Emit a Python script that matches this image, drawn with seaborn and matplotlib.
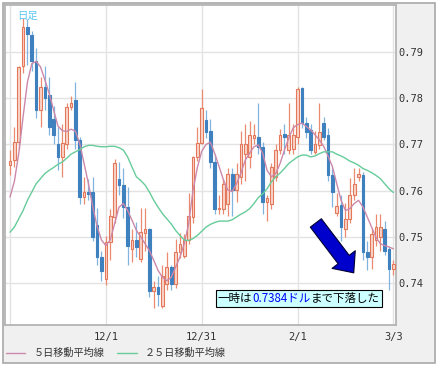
import numpy as np
import pandas as pd
import matplotlib
matplotlib.use("Agg")
import matplotlib.pyplot as plt
import seaborn as sns
from matplotlib.patches import Rectangle
from matplotlib.offsetbox import TextArea, HPacker, AnnotationBbox

# daily candles, index 0 = 11/1 ... 88 = 3/3
opens = [0.7655, 0.7666, 0.7706, 0.7869, 0.7954, 0.7938, 0.7880, 0.7775, 0.7825, 0.7807,
         0.7756, 0.7702, 0.7673, 0.7702, 0.7782, 0.7796, 0.7709, 0.7586, 0.7597, 0.7597,
         0.7525, 0.7456, 0.7409, 0.7488, 0.7543, 0.7626, 0.7612, 0.7565, 0.7474, 0.7492,
         0.7452, 0.7509, 0.7516, 0.7383, 0.7392, 0.7351, 0.7398, 0.7434, 0.7398, 0.7467,
         0.7459, 0.7492, 0.7543, 0.7673, 0.7704, 0.7753, 0.7730, 0.7662, 0.7560, 0.7561,
         0.7572, 0.7637, 0.7601, 0.7630, 0.7680, 0.7673, 0.7715, 0.7717, 0.7695, 0.7575,
         0.7572, 0.7630, 0.7688, 0.7722, 0.7688, 0.7691, 0.7717, 0.7822, 0.7746, 0.7731,
         0.7684, 0.7699, 0.7746, 0.7720, 0.7633, 0.7551, 0.7568, 0.7517, 0.7539, 0.7590,
         0.7630, 0.7633, 0.7467, 0.7456, 0.7492, 0.7499, 0.7517, 0.7474, 0.7430]
highs = [0.7688, 0.7738, 0.7870, 0.7974, 0.7972, 0.7945, 0.7909, 0.7846, 0.7870, 0.7846,
         0.7783, 0.7738, 0.7745, 0.7790, 0.7805, 0.7836, 0.7716, 0.7630, 0.7625, 0.7630,
         0.7562, 0.7470, 0.7502, 0.7560, 0.7668, 0.7662, 0.7648, 0.7608, 0.7516, 0.7532,
         0.7562, 0.7562, 0.7520, 0.7405, 0.7416, 0.7440, 0.7468, 0.7440, 0.7495, 0.7508,
         0.7505, 0.7595, 0.7675, 0.7738, 0.7820, 0.7775, 0.7755, 0.7680, 0.7590, 0.7625,
         0.7650, 0.7650, 0.7660, 0.7730, 0.7745, 0.7750, 0.7745, 0.7789, 0.7705, 0.7590,
         0.7660, 0.7700, 0.7733, 0.7745, 0.7789, 0.7745, 0.7825, 0.7825, 0.7760, 0.7745,
         0.7730, 0.7790, 0.7760, 0.7735, 0.7650, 0.7595, 0.7590, 0.7573, 0.7628, 0.7650,
         0.7650, 0.7640, 0.7490, 0.7520, 0.7550, 0.7550, 0.7535, 0.7477, 0.7450]
lows = [0.7633, 0.7651, 0.7690, 0.7854, 0.7872, 0.7860, 0.7757, 0.7738, 0.7775, 0.7720,
        0.7700, 0.7645, 0.7630, 0.7690, 0.7775, 0.7690, 0.7572, 0.7570, 0.7580, 0.7490,
        0.7440, 0.7405, 0.7395, 0.7450, 0.7530, 0.7590, 0.7540, 0.7440, 0.7445, 0.7456,
        0.7445, 0.7470, 0.7370, 0.7345, 0.7350, 0.7345, 0.7385, 0.7385, 0.7390, 0.7455,
        0.7455, 0.7485, 0.7530, 0.7665, 0.7700, 0.7715, 0.7650, 0.7550, 0.7550, 0.7550,
        0.7545, 0.7545, 0.7575, 0.7615, 0.7620, 0.7650, 0.7700, 0.7680, 0.7550, 0.7535,
        0.7560, 0.7620, 0.7680, 0.7680, 0.7680, 0.7680, 0.7700, 0.7735, 0.7715, 0.7680,
        0.7680, 0.7690, 0.7710, 0.7620, 0.7565, 0.7545, 0.7490, 0.7500, 0.7530, 0.7580,
        0.7620, 0.7450, 0.7428, 0.7430, 0.7480, 0.7470, 0.7460, 0.7384, 0.7418]
closes = [0.7664, 0.7706, 0.7867, 0.7954, 0.7940, 0.7880, 0.7775, 0.7825, 0.7800, 0.7738,
          0.7720, 0.7673, 0.7704, 0.7782, 0.7789, 0.7709, 0.7586, 0.7597, 0.7593, 0.7500,
          0.7456, 0.7427, 0.7488, 0.7546, 0.7659, 0.7612, 0.7565, 0.7481, 0.7492, 0.7478,
          0.7510, 0.7516, 0.7383, 0.7392, 0.7376, 0.7416, 0.7434, 0.7398, 0.7467, 0.7485,
          0.7492, 0.7546, 0.7673, 0.7704, 0.7778, 0.7728, 0.7662, 0.7561, 0.7562, 0.7614,
          0.7637, 0.7601, 0.7637, 0.7702, 0.7702, 0.7720, 0.7720, 0.7695, 0.7575, 0.7583,
          0.7651, 0.7688, 0.7720, 0.7717, 0.7720, 0.7720, 0.7820, 0.7746, 0.7728, 0.7688,
          0.7702, 0.7728, 0.7717, 0.7633, 0.7597, 0.7566, 0.7521, 0.7539, 0.7590, 0.7615,
          0.7636, 0.7467, 0.7456, 0.7507, 0.7521, 0.7521, 0.7470, 0.7430, 0.7441]

# moving averages as drawn on the chart
ma5 = [0.7586, 0.7620, 0.7680, 0.7760, 0.7835, 0.7875, 0.7880, 0.7868, 0.7840, 0.7810,
       0.7775, 0.7740, 0.7730, 0.7728, 0.7733, 0.7729, 0.7702, 0.7659, 0.7615, 0.7565,
       0.7522, 0.7493, 0.7481, 0.7493, 0.7528, 0.7564, 0.7572, 0.7557, 0.7536, 0.7514,
       0.7500, 0.7485, 0.7470, 0.7449, 0.7427, 0.7412, 0.7405, 0.7412, 0.7434, 0.7456,
       0.7485, 0.7528, 0.7600, 0.7650, 0.7685, 0.7700, 0.7705, 0.7680, 0.7652, 0.7623,
       0.7601, 0.7598, 0.7615, 0.7638, 0.7666, 0.7681, 0.7695, 0.7699, 0.7681, 0.7644,
       0.7630, 0.7637, 0.7659, 0.7688, 0.7714, 0.7736, 0.7743, 0.7746, 0.7739, 0.7732,
       0.7721, 0.7710, 0.7696, 0.7675, 0.7652, 0.7615, 0.7579, 0.7557, 0.7561, 0.7572,
       0.7579, 0.7565, 0.7543, 0.7521, 0.7499, 0.7485, 0.7481, 0.7478, 0.7474]
ma25 = [0.7510, 0.7521, 0.7539, 0.7557, 0.7579, 0.7597, 0.7615, 0.7626, 0.7637, 0.7644,
        0.7650, 0.7657, 0.7662, 0.7670, 0.7679, 0.7684, 0.7689, 0.7695, 0.7698, 0.7698,
        0.7696, 0.7695, 0.7695, 0.7696, 0.7696, 0.7693, 0.7688, 0.7673, 0.7651, 0.7630,
        0.7622, 0.7612, 0.7597, 0.7579, 0.7564, 0.7550, 0.7539, 0.7528, 0.7514, 0.7503,
        0.7493, 0.7492, 0.7496, 0.7503, 0.7512, 0.7521, 0.7527, 0.7531, 0.7534, 0.7534,
        0.7534, 0.7537, 0.7543, 0.7549, 0.7554, 0.7561, 0.7572, 0.7585, 0.7593, 0.7604,
        0.7619, 0.7630, 0.7638, 0.7648, 0.7659, 0.7666, 0.7673, 0.7677, 0.7677, 0.7673,
        0.7675, 0.7680, 0.7684, 0.7684, 0.7684, 0.7679, 0.7675, 0.7670, 0.7664, 0.7660,
        0.7655, 0.7648, 0.7644, 0.7639, 0.7633, 0.7626, 0.7615, 0.7604, 0.7596]

tick_pos = [0, 22, 44, 66, 88]
tick_labels = ['', '12/1', '12/31', '2/1', '3/3']
y_ticks = [0.74, 0.75, 0.76, 0.77, 0.78, 0.79]

sns.set_style('white')
plt.rcParams['font.family'] = ['Noto Sans CJK JP', 'DejaVu Sans']

df = pd.DataFrame({'open': opens, 'high': highs, 'low': lows, 'close': closes,
                   'ma5': ma5, 'ma25': ma25})
df['x'] = np.arange(len(df))
df['up'] = df['close'] >= df['open']

fig = plt.figure(figsize=(4.42, 3.70), dpi=100)
fig.patch.set_facecolor('white')
# grey panel behind everything
fig.add_artist(Rectangle((3 / 442, 7 / 370), 432 / 442, 360 / 370, transform=fig.transFigure,
                         fc='#f0f0f0', ec='#a8a8a8', lw=1.2, zorder=-1))

ax = fig.add_axes([5 / 442, 45 / 370, 391 / 442, 320 / 370])
ax.set_facecolor('white')

up = df[df['up']]
dn = df[~df['up']]

# wicks
ax.vlines(up['x'], up['low'], up['high'], colors='#ea8a70', lw=0.9, zorder=2)
ax.vlines(dn['x'], dn['low'], dn['high'], colors='#80b4df', lw=0.9, zorder=2)

# bodies
min_h = 0.00008
ax.bar(up['x'], np.maximum(up['close'] - up['open'], min_h), bottom=up['open'], width=0.62,
       color='#fad5ca', edgecolor='#e3785a', lw=0.8, zorder=3)
ax.bar(dn['x'], np.maximum(dn['open'] - dn['close'], min_h), bottom=dn['close'], width=0.62,
       color='#3f80bf', edgecolor='#3f80bf', lw=0.8, zorder=3)

# moving averages
sns.lineplot(data=df, x='x', y='ma5', ax=ax, color='#cc88aa', lw=1, label='５日移動平均線', zorder=4)
sns.lineplot(data=df, x='x', y='ma25', ax=ax, color='#66cc99', lw=1, label='２５日移動平均線', zorder=4)
handles, labels = ax.get_legend_handles_labels()
ax.get_legend().remove()

ax.set_xlim(-1.15, 88.6)
ax.set_ylim(0.7309, 0.8002)
ax.set_xticks(tick_pos)
ax.set_xticklabels(tick_labels)
ax.set_yticks(y_ticks)
ax.set_yticklabels([f'{v:.2f}' for v in y_ticks])
ax.yaxis.tick_right()
ax.tick_params(axis='both', length=0, colors='#333333', labelsize=7.5)
ax.tick_params(axis='x', pad=5)
ax.tick_params(axis='y', pad=2)
for lab in ax.get_xticklabels() + ax.get_yticklabels():
    lab.set_fontfamily('DejaVu Sans Mono')
ax.set_xlabel('')
ax.set_ylabel('')
ax.grid(True, color='#e3e3e3', lw=1)
ax.set_axisbelow(True)
for sp in ax.spines.values():
    sp.set_color('#b4b4b4')
    sp.set_linewidth(1.3)

ax.text(12 / 391, 0.982, '日足', transform=ax.transAxes, ha='left', va='top',
        fontsize=7.5, color='#5cc6f2', zorder=8)

# arrow and note
ax.annotate('', xy=(78.9, 0.7422), xytext=(70.2, 0.7530),
            arrowprops=dict(arrowstyle='simple,head_length=1.2,head_width=2.1,tail_width=1.0',
                            mutation_scale=10, fc='#0000cc', ec='#000033', lw=0.8,
                            shrinkA=0, shrinkB=0), zorder=6)

parts = [TextArea('一時は', textprops=dict(color='black', fontsize=8.3)),
         TextArea('0.7384ドル', textprops=dict(color='#0000ff', fontsize=8.3)),
         TextArea('まで下落した', textprops=dict(color='black', fontsize=8.3))]
note = HPacker(children=parts, align='baseline', pad=0, sep=0)
ab = AnnotationBbox(note, (66.3, 0.7367), xycoords='data', frameon=True,
                    box_alignment=(0.5, 0.5), pad=0.15,
                    bboxprops=dict(fc='#ccffff', ec='black', lw=0.8))
ab.set_zorder(7)
ax.add_artist(ab)

fig.legend(handles, labels, loc='center left', bbox_to_anchor=(6 / 442, 17 / 370), ncol=2,
           frameon=False, fontsize=7.3, handlelength=1.9, handletextpad=0.8,
           columnspacing=1.3, borderaxespad=0, borderpad=0, labelcolor='#333333')

fig.savefig('out.png', dpi=100)
